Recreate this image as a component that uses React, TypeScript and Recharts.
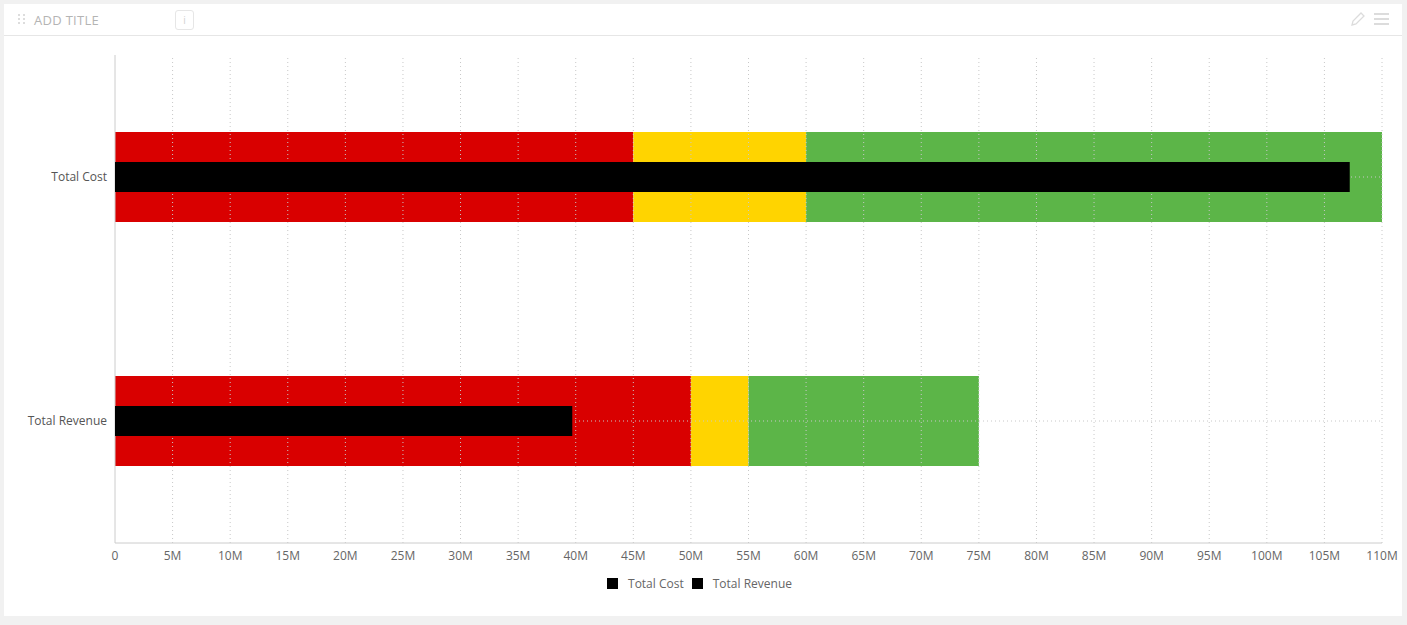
import { BarChart, Bar, XAxis, YAxis, ReferenceLine } from "recharts";

// bullet chart: qualitative ranges (poor / fair / good) with the actual value on top
const categories = ["Total Cost", "Total Revenue"];
const poorUpTo = [45e6, 50e6];
const fairUpTo = [60e6, 55e6];
const goodUpTo = [110e6, 75e6];
const actualValues = [107.2e6, 39.7e6];
const xTicks = [
  0, 5e6, 10e6, 15e6, 20e6, 25e6, 30e6, 35e6, 40e6, 45e6, 50e6, 55e6,
  60e6, 65e6, 70e6, 75e6, 80e6, 85e6, 90e6, 95e6, 100e6, 105e6, 110e6,
];
const legendNames = ["Total Cost", "Total Revenue"];

const data = categories.map((name, i) => ({
  name,
  poor: poorUpTo[i],
  fair: fairUpTo[i] - poorUpTo[i],
  good: goodUpTo[i] - fairUpTo[i],
  actual: actualValues[i],
}));

const FONT = "'Open Sans', 'Noto Sans', sans-serif";
const GRID = "#c8c8c8";
const fmt = (v: number) => (v === 0 ? "0" : `${v / 1e6}M`);

function Header() {
  return (
    <div
      style={{
        position: "absolute",
        left: 4,
        top: 4,
        width: 1398,
        height: 31,
        borderBottom: "1px solid #e6e6e6",
        fontFamily: FONT,
      }}
    >
      <svg width={8} height={12} style={{ position: "absolute", left: 14, top: 10 }}>
        {[0, 4, 8].map((y) =>
          [0, 5].map((x) => <rect key={`${x}-${y}`} x={x} y={y} width={2} height={2} fill="#ddd" />)
        )}
      </svg>
      <div
        style={{
          position: "absolute",
          left: 30,
          top: 7,
          fontSize: 13,
          color: "#b4b4b4",
          letterSpacing: 0.3,
        }}
      >
        ADD TITLE
      </div>
      <div
        style={{
          position: "absolute",
          left: 171,
          top: 6,
          width: 17,
          height: 18,
          border: "1px solid #e6e6e6",
          borderRadius: 3,
          fontSize: 10,
          color: "#d0d0d0",
          textAlign: "center",
          lineHeight: "18px",
        }}
      >
        i
      </div>
      <svg width={16} height={16} style={{ position: "absolute", left: 1346, top: 7 }}>
        <path d="M2 14 L3 10 L11 2 L14 5 L6 13 Z" fill="none" stroke="#dcdcdc" strokeWidth={1.3} />
      </svg>
      <svg width={16} height={14} style={{ position: "absolute", left: 1370, top: 8 }}>
        <rect x={0} y={1} width={15} height={2} fill="#dcdcdc" />
        <rect x={0} y={6} width={15} height={2} fill="#dcdcdc" />
        <rect x={0} y={11} width={15} height={2} fill="#dcdcdc" />
      </svg>
    </div>
  );
}

function LegendRow() {
  return (
    <div
      style={{
        position: "absolute",
        left: 0,
        top: 575,
        width: 1407,
        display: "flex",
        justifyContent: "center",
        fontFamily: FONT,
        fontSize: 12,
        color: "#666",
        paddingLeft: 0,
      }}
    >
      {legendNames.map((n) => (
        <div key={n} style={{ display: "flex", alignItems: "center", marginRight: 8 }}>
          <span style={{ width: 11, height: 11, background: "#000", display: "inline-block", marginRight: 10 }} />
          <span>{n}</span>
        </div>
      ))}
    </div>
  );
}

export default function App() {
  return (
    <div
      style={{
        position: "fixed",
        left: 0,
        top: 0,
        width: 1407,
        height: 625,
        background: "#f1f1f1",
        overflow: "hidden",
      }}
    >
      <div
        style={{
          position: "absolute",
          left: 4,
          top: 4,
          width: 1398,
          height: 612,
          background: "#fff",
        }}
      />
      <Header />
      <div style={{ position: "absolute", left: 0, top: 0 }}>
        <BarChart
          width={1407}
          height={625}
          data={data}
          layout="vertical"
          margin={{ top: 55, right: 25, bottom: 52, left: 0 }}
          style={{ fontFamily: FONT }}
        >
          <XAxis
            type="number"
            domain={[0, 110e6]}
            ticks={xTicks}
            tickFormatter={fmt}
            interval={0}
            height={30}
            tickLine={false}
            axisLine={{ stroke: "#ccc" }}
            tick={{ fontSize: 12, fill: "#666" }}
            allowDataOverflow
          />
          <YAxis
            yAxisId="range"
            type="category"
            dataKey="name"
            width={115}
            tickLine={false}
            axisLine={{ stroke: "#ccc" }}
            tick={{ fontSize: 12, fill: "#555" }}
          />
          <YAxis yAxisId="actual" type="category" dataKey="name" orientation="right" width={0} hide />
          <Bar yAxisId="range" dataKey="poor" stackId="range" fill="#d90000" barSize={90} isAnimationActive={false} />
          <Bar yAxisId="range" dataKey="fair" stackId="range" fill="#ffd400" barSize={90} isAnimationActive={false} />
          <Bar yAxisId="range" dataKey="good" stackId="range" fill="#5cb548" barSize={90} isAnimationActive={false} />
          {xTicks.slice(1).map((t) => (
            <ReferenceLine key={t} yAxisId="range" x={t} stroke={GRID} strokeDasharray="1 3" />
          ))}
          {categories.map((c) => (
            <ReferenceLine key={c} yAxisId="range" y={c} stroke={GRID} strokeDasharray="1 3" />
          ))}
          <Bar
            yAxisId="actual"
            dataKey="actual"
            fill="#000"
            barSize={30}
            zIndex={1000}
            isAnimationActive={false}
          />
        </BarChart>
      </div>
      <LegendRow />
    </div>
  );
}
